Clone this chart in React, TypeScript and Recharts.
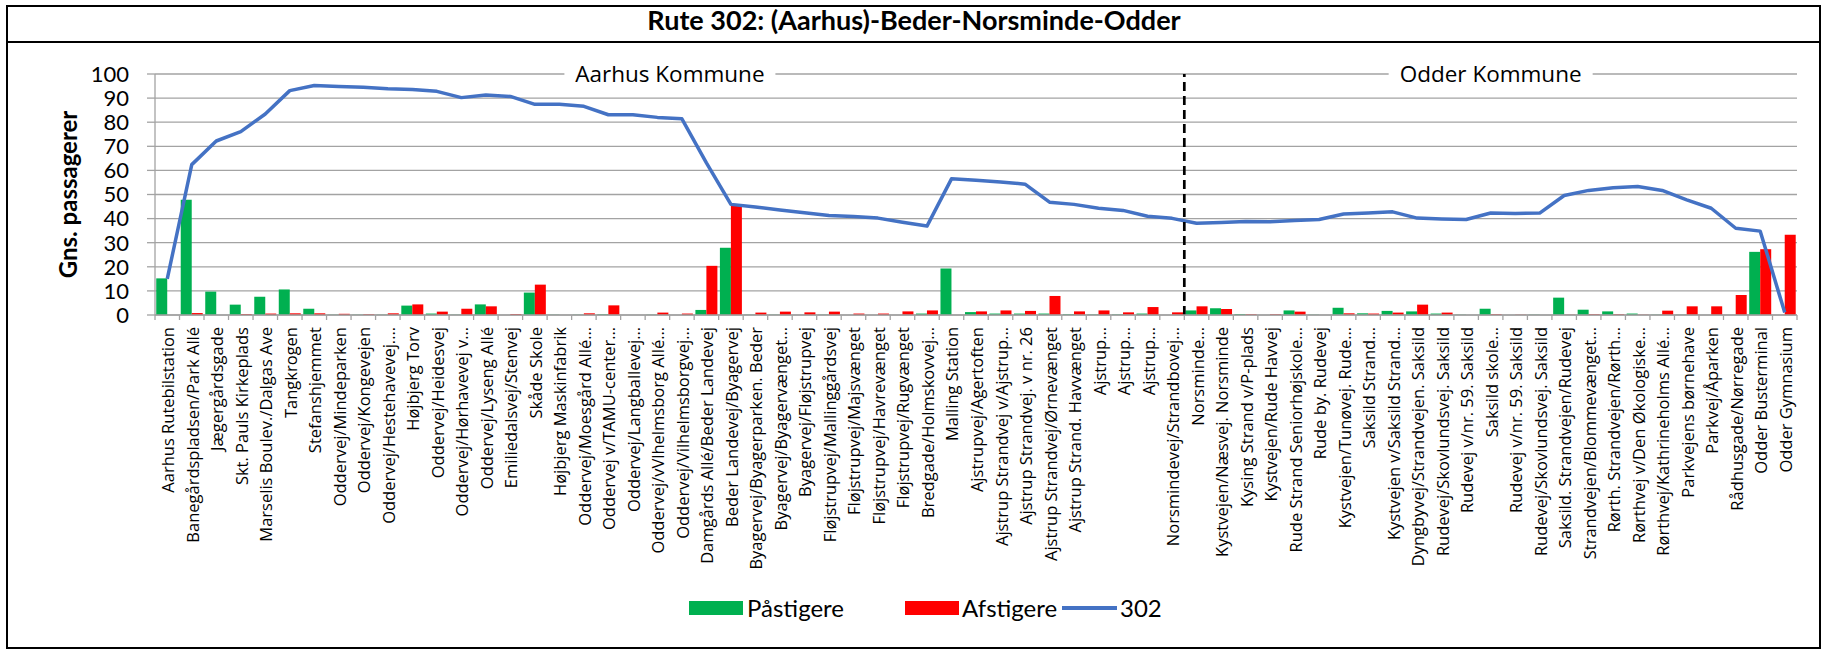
import React from "react";
import {
  ComposedChart,
  Bar,
  Line,
  XAxis,
  YAxis,
  CartesianGrid,
  ReferenceLine,
  ReferenceDot,
} from "recharts";

const stops: string[] = [
  "Aarhus Rutebilstation",
  "Banegårdspladsen/Park Allé",
  "Jægergårdsgade",
  "Skt. Pauls Kirkeplads",
  "Marselis Boulev./Dalgas Ave",
  "Tangkrogen",
  "Stefanshjemmet",
  "Oddervej/Mindeparken",
  "Oddervej/Kongevejen",
  "Oddervej/Hestehavevej.…",
  "Højbjerg Torv",
  "Oddervej/Heidesvej",
  "Oddervej/Hørhavevej v…",
  "Oddervej/Lyseng Allé",
  "Emiliedalsvej/Stenvej",
  "Skåde Skole",
  "Højbjerg Maskinfabrik",
  "Oddervej/Moesgård Allé…",
  "Oddervej v/TAMU-center…",
  "Oddervej/Langballevej…",
  "Oddervej/vVlhelmsborg Allé…",
  "Oddervej/Vilhelmsborgvej…",
  "Damgårds Allé/Beder Landevej",
  "Beder Landevej/Byagervej",
  "Byagervej/Byagerparken. Beder",
  "Byagervej/Byagervænget…",
  "Byagervej/Fløjstrupvej",
  "Fløjstrupvej/Mallinggårdsvej",
  "Fløjstrupvej/Majsvænget",
  "Fløjstrupvej/Havrevænget",
  "Fløjstrupvej/Rugvænget",
  "Bredgade/Holmskovvej…",
  "Malling Station",
  "Ajstrupvej/Agertoften",
  "Ajstrup Strandvej v/Ajstrup…",
  "Ajstrup Strandvej.  v nr. 26",
  "Ajstrup Strandvej/Ørnevænget",
  "Ajstrup Strand. Havvænget",
  "Ajstrup…",
  "Ajstrup…",
  "Ajstrup…",
  "Norsmindevej/Strandbovej…",
  "Norsminde…",
  "Kystvejen/Næsvej. Norsminde",
  "Kysing Strand v/P-plads",
  "Kystvejen/Rude Havvej",
  "Rude Strand Seniorhøjskole…",
  "Rude by. Rudevej",
  "Kystvejen/Tunøvej. Rude…",
  "Saksild Strand…",
  "Kystvejen v/Saksild Strand…",
  "Dyngbyvej/Strandvejen. Saksild",
  "Rudevej/Skovlundsvej. Saksild",
  "Rudevej v/nr. 59. Saksild",
  "Saksild skole…",
  "Rudevej v/nr. 59. Saksild",
  "Rudevej/Skovlundsvej. Saksild",
  "Saksild. Strandvejen/Rudevej",
  "Strandvejen/Blommevænget…",
  "Rørth. Strandvejen/Rørth…",
  "Rørthvej v/Den Økologiske…",
  "Rørthvej/Kathrineholms Allé…",
  "Parkvejens børnehave",
  "Parkvej/Åparken",
  "Rådhusgade/Nørregade",
  "Odder Busterminal",
  "Odder Gymnasium",
];

const paastigere: number[] = [
  15.2, 47.8, 9.7, 4.3, 7.6, 10.6, 2.6, 0.1, 0.1, 0.1,
  3.9, 0.6, 0.1, 4.4, 0, 9.3, 0.1, 0.1, 0.3, 0,
  0.1, 0, 2.1, 27.9, 0.1, 0.1, 0, 0.1, 0, 0,
  0, 0.6, 19.3, 1.2, 0.6, 0.6, 0.6, 0.3, 0.2, 0.2,
  0.6, 0, 1.9, 2.8, 0.4, 0, 1.9, 0.1, 3.0, 0.7,
  1.7, 1.5, 0.6, 0.1, 2.6, 0, 0.1, 7.2, 2.2, 1.5,
  0.6, 0.1, 0.1, 0, 0, 26.2, 0,
];

const afstigere: number[] = [
  0, 0.8, 0, 0.4, 0.6, 0.7, 0.7, 0.5, 0.3, 0.7,
  4.4, 1.4, 2.6, 3.6, 0.4, 12.6, 0, 0.7, 4.0, 0,
  1.0, 0.6, 20.4, 45.2, 1.0, 1.4, 1.1, 1.4, 0.6, 0.6,
  1.5, 1.9, 0, 1.5, 1.9, 1.7, 7.9, 1.5, 1.9, 1.1,
  3.3, 1.1, 3.6, 2.5, 0.3, 0.3, 1.4, 0, 0.7, 0.6,
  1.0, 4.3, 1.0, 0, 0.3, 0.1, 0, 0.1, 0.3, 0.3,
  0.1, 1.8, 3.6, 3.6, 8.3, 27.3, 33.3,
];

const rute302: number[] = [
  15, 62.4, 72.2, 76.1, 83.4, 93.1, 95.2, 94.8, 94.5, 93.9,
  93.6, 92.8, 90.2, 91.3, 90.7, 87.4, 87.4, 86.6, 83.1, 83.1,
  82.0, 81.4, 63.1, 45.9, 44.8, 43.6, 42.4, 41.3, 40.9, 40.2,
  38.5, 36.9, 56.5, 55.9, 55.2, 54.3, 46.8, 45.9, 44.3, 43.4,
  41.0, 40.1, 38.1, 38.4, 38.8, 38.7, 39.2, 39.6, 41.9, 42.3,
  42.8, 40.2, 39.8, 39.6, 42.3, 42.1, 42.3, 49.6, 51.7, 52.8,
  53.3, 51.7, 47.8, 44.3, 36.0, 34.8, 1,
];

const yTicks: number[] = [0, 10, 20, 30, 40, 50, 60, 70, 80, 90, 100];

const TITLE = "Rute 302: (Aarhus)-Beder-Norsminde-Odder";
const Y_TITLE = "Gns. passagerer";
const SERIES_NAMES = ["Påstigere", "Afstigere", "302"];
const BORDER_INDEX = 42;
const AARHUS_INDEX = 21;
const ODDER_INDEX = 54;

const GREEN = "#00B050";
const RED = "#FF0000";
const BLUE = "#4472C4";
const GRID = "#a3a3a3";

const data = stops.map((s, i) => ({
  idx: i,
  stop: s,
  on: paastigere[i],
  off: afstigere[i],
  load: rute302[i],
}));

const W = 1827;
const H = 650;

const StopTick = (props: any) => {
  const { x, y, payload, index } = props;
  const half =
    typeof payload?.offset === "number" && payload.offset > 0
      ? payload.offset
      : 12.25;
  const last = index === stops.length - 1;
  return (
    <g>
      <line x1={x - half} x2={x - half} y1={y} y2={y + 5} stroke={GRID} strokeWidth={1.3} />
      {last && (
        <line x1={x + half} x2={x + half} y1={y} y2={y + 5} stroke={GRID} strokeWidth={1.3} />
      )}
      <text
        transform={`translate(${x + 7},${y + 12}) rotate(-90)`}
        textAnchor="end"
        fontFamily="'Open Sans'"
        fontSize={16.5}
        fill="#000"
      >
        {stops[payload.value]}
      </text>
    </g>
  );
};

const kommuneLabel = (text: string, boxW: number, dx: number) => (props: any) => {
  const vb = props.viewBox || {};
  const cx = (vb.x || 0) + (vb.width || 0) / 2 + dx;
  const cy = (vb.y || 0) + (vb.height || 0) / 2;
  return (
    <g>
      <rect x={cx - boxW / 2} y={cy - 14} width={boxW} height={28} fill="#fff" />
      <text
        x={cx}
        y={cy + 8}
        textAnchor="middle"
        fontFamily="'Open Sans'"
        fontSize={22.5}
        fill="#000"
      >
        {text}
      </text>
    </g>
  );
};

const yTitle = (props: any) => {
  const vb = props.viewBox || {};
  const cx = (vb.x || 0) + 12;
  const cy = (vb.y || 0) + (vb.height || 0) / 2;
  return (
    <text
      x={cx}
      y={cy}
      transform={`rotate(-90, ${cx}, ${cy})`}
      textAnchor="middle"
      dominantBaseline="central"
      fontFamily="Lato"
      fontWeight="bold"
      fontSize={24}
      fill="#000"
    >
      {Y_TITLE}
    </text>
  );
};

export default function App() {
  return (
    <div style={{ position: "relative", width: W, height: H, background: "#fff" }}>
      <style>{"body{margin:0;background:#fff}"}</style>
      <ComposedChart
        width={W}
        height={H}
        data={data}
        margin={{ top: 74, right: 30, bottom: 0, left: 55 }}
        barCategoryGap="5%"
        barGap={0}
      >
        <CartesianGrid vertical={false} stroke={GRID} strokeWidth={1.3} />
        <XAxis
          dataKey="idx"
          type="category"
          interval={0}
          height={335}
          tickLine={false}
          tickSize={0}
          tickMargin={0}
          axisLine={{ stroke: GRID, strokeWidth: 1.3 }}
          tick={(p: any) => <StopTick {...p} />}
        />
        <YAxis
          domain={[0, 100]}
          ticks={yTicks}
          interval={0}
          width={100}
          tickSize={8}
          tickMargin={18}
          tickLine={{ stroke: GRID, strokeWidth: 1.3 }}
          axisLine={{ stroke: GRID, strokeWidth: 1.3 }}
          tick={{ fill: "#000", fontFamily: "Lato", fontSize: 22 }}
          label={yTitle}
        />
        <Bar dataKey="on" name={SERIES_NAMES[0]} fill={GREEN} isAnimationActive={false} />
        <Bar dataKey="off" name={SERIES_NAMES[1]} fill={RED} isAnimationActive={false} />
        <Line
          dataKey="load"
          name={SERIES_NAMES[2]}
          type="linear"
          stroke={BLUE}
          strokeWidth={3.5}
          strokeLinejoin="round"
          dot={false}
          activeDot={false}
          isAnimationActive={false}
        />
        <ReferenceLine
          x={BORDER_INDEX}
          position="start"
          stroke="#000"
          strokeWidth={2.7}
          strokeDasharray="9 5"
        />
        <ReferenceDot
          x={AARHUS_INDEX}
          y={100}
          r={0}
          fill="none"
          stroke="none"
          ifOverflow="visible"
          label={kommuneLabel("Aarhus Kommune", 211, -12)}
        />
        <ReferenceDot
          x={ODDER_INDEX}
          y={100}
          r={0}
          fill="none"
          stroke="none"
          ifOverflow="visible"
          label={kommuneLabel("Odder Kommune", 204, 0)}
        />
      </ComposedChart>
      <svg
        width={W}
        height={H}
        style={{ position: "absolute", left: 0, top: 0, pointerEvents: "none" }}
      >
        <rect x={7} y={6} width={1813} height={642} fill="none" stroke="#000" strokeWidth={2} />
        <line x1={7} x2={1820} y1={42} y2={42} stroke="#000" strokeWidth={2} />
        <text
          x={914}
          y={30}
          textAnchor="middle"
          fontFamily="Lato"
          fontWeight="bold"
          fontSize={27}
          fill="#000"
        >
          {TITLE}
        </text>
        <g fontFamily="Lato" fontSize={24} fill="#000">
          <rect x={689} y={601} width={54} height={14} fill={GREEN} />
          <text x={747} y={617}>{SERIES_NAMES[0]}</text>
          <rect x={905} y={601} width={54} height={14} fill={RED} />
          <text x={962} y={617}>{SERIES_NAMES[1]}</text>
          <line x1={1062} x2={1117} y1={608} y2={608} stroke={BLUE} strokeWidth={4} />
          <text x={1120} y={617}>{SERIES_NAMES[2]}</text>
        </g>
      </svg>
    </div>
  );
}
